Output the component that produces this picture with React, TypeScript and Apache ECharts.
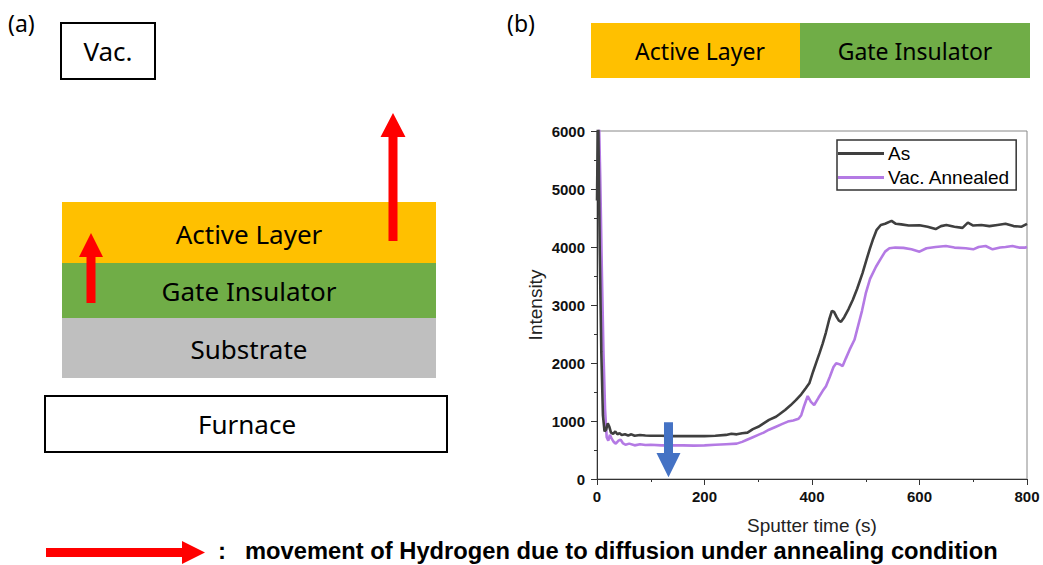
import React, { useEffect, useRef } from "react";
import * as echarts from "echarts";

// ---- Data ----
const asX = [0, 2, 5, 8, 11, 14, 17, 20, 23, 26, 30, 34, 38, 42, 46, 52, 58, 64, 70, 80, 90, 100, 120, 140, 160, 180, 200, 220, 240, 250, 260, 270, 280, 290, 300, 310, 320, 333, 340, 350, 360, 370, 380, 388, 395, 402, 408, 414, 420, 426, 432, 437, 441, 446, 450, 454, 460, 468, 476, 484, 494, 502, 508, 513, 520, 528, 536, 548, 556, 566, 580, 600, 615, 630, 640, 650, 665, 680, 690, 700, 715, 730, 745, 760, 775, 790, 800];
const asY = [4800, 6500, 4000, 2200, 1100, 820, 850, 960, 900, 800, 780, 820, 770, 790, 760, 770, 750, 770, 745, 760, 750, 745, 745, 740, 740, 740, 740, 745, 760, 780, 770, 790, 800, 860, 900, 960, 1020, 1074, 1120, 1190, 1270, 1360, 1460, 1560, 1650, 1850, 2010, 2170, 2340, 2530, 2750, 2900, 2880, 2790, 2730, 2710, 2790, 2930, 3090, 3280, 3550, 3800, 3980, 4120, 4290, 4380, 4400, 4450, 4400, 4390, 4370, 4375, 4350, 4310, 4360, 4380, 4350, 4330, 4420, 4370, 4380, 4360, 4380, 4400, 4360, 4350, 4400];

const vacX = [3, 6, 9, 12, 15, 18, 21, 24, 27, 31, 35, 40, 44, 48, 53, 60, 70, 80, 90, 100, 120, 140, 160, 180, 200, 220, 240, 260, 270, 278, 290, 300, 310, 320, 333, 345, 355, 365, 375, 380, 385, 392, 398, 404, 412, 420, 426, 433, 440, 445, 451, 457, 463, 470, 479, 486, 493, 500, 508, 519, 528, 536, 544, 555, 570, 585, 600, 613, 630, 649, 665, 686, 700, 710, 723, 736, 750, 760, 773, 785, 797, 800];
const vacY = [6500, 5200, 3600, 2200, 1200, 720, 660, 760, 700, 640, 610, 660, 680, 620, 590, 610, 580, 600, 585, 590, 580, 580, 580, 575, 580, 590, 600, 610, 640, 672, 720, 760, 800, 850, 902, 950, 990, 1010, 1040, 1100, 1250, 1431, 1330, 1276, 1400, 1520, 1600, 1760, 1930, 1995, 1980, 1948, 2080, 2230, 2400, 2650, 2900, 3200, 3450, 3660, 3800, 3920, 3978, 3990, 3985, 3960, 3920, 3978, 4000, 4017, 3990, 3978, 3960, 4000, 4017, 3960, 3990, 4000, 4017, 3990, 3990, 4000];

const seriesNames = ["As", "Vac. Annealed"];
const xTicks = { min: 0, max: 800, interval: 200 };
const yTicks = { min: 0, max: 6000, interval: 1000 };
const arrowX = 133; // blue arrow position (s)
const arrowTopY = 980;
const arrowHeadY = 450;
const arrowTipY = 30;

const bottomNote = "movement of Hydrogen due to diffusion under annealing condition";

const SCHEM_FONT = '"Noto Sans", "DejaVu Sans", sans-serif';
const CHART_FONT = '"Liberation Sans", Arial, sans-serif';
const NOTE_FONT = 'bold 24px "Liberation Sans", Arial, sans-serif';

function measure(text: string, font: string): number {
  const c = document.createElement("canvas");
  const ctx = c.getContext("2d");
  if (!ctx) return text.length * 12;
  ctx.font = font;
  return ctx.measureText(text).width;
}

function schemText(text: string, x: number, y: number, size = 26) {
  return {
    type: "text",
    z: 20,
    x,
    y,
    style: {
      text,
      fill: "#000",
      font: `${size}px ${SCHEM_FONT}`,
      align: "center",
      verticalAlign: "middle",
    },
  };
}

function rect(x: number, y: number, w: number, h: number, fill: string, stroke?: string, lw = 0) {
  return {
    type: "rect",
    z: 10,
    shape: { x, y, width: w, height: h },
    style: { fill, stroke: stroke || null, lineWidth: lw },
  };
}

function upArrow(cx: number, tipY: number, headY: number, bottomY: number, headHalf: number, shaftHalf: number, color: string) {
  return {
    type: "polygon",
    z: 30,
    shape: {
      points: [
        [cx, tipY],
        [cx + headHalf, headY],
        [cx + shaftHalf, headY],
        [cx + shaftHalf, bottomY],
        [cx - shaftHalf, bottomY],
        [cx - shaftHalf, headY],
        [cx - headHalf, headY],
      ],
    },
    style: { fill: color },
  };
}

export default function App() {
  const ref = useRef<HTMLDivElement>(null);

  useEffect(() => {
    if (!ref.current) return;
    const chart = echarts.init(ref.current, null, { renderer: "svg" });

    const asData = asX.map((x, i) => [x, asY[i]]);
    const vacData = vacX.map((x, i) => [x, vacY[i]]);

    const noteWidth = measure(bottomNote, NOTE_FONT);
    const noteScale = Math.min(1, 753 / Math.max(1, noteWidth));

    const staticGraphics: any[] = [
      // panel labels
      { type: "text", z: 20, x: 8, y: 23, style: { text: "(a)", fill: "#000", font: `23px ${SCHEM_FONT}`, verticalAlign: "middle" } },
      { type: "text", z: 20, x: 507, y: 23, style: { text: "(b)", fill: "#000", font: `23px ${SCHEM_FONT}`, verticalAlign: "middle" } },
      // Vac. box
      rect(61, 23, 94, 56, "#fff", "#000", 2),
      schemText("Vac.", 108, 51),
      // layer stack
      rect(62, 202, 374, 61, "#FFC000"),
      rect(62, 263, 374, 55, "#70AD47"),
      rect(62, 318, 374, 60, "#BFBFBF"),
      schemText("Active Layer", 249, 234),
      schemText("Gate Insulator", 249, 291),
      schemText("Substrate", 249, 349),
      // furnace
      rect(45, 396, 402, 56, "#fff", "#000", 2),
      schemText("Furnace", 247, 424),
      // red arrows
      upArrow(91, 233, 257, 303, 12, 4.5, "#FF0000"),
      upArrow(393, 113, 137, 241, 12.5, 4.5, "#FF0000"),
      // top bars in (b)
      rect(591, 23, 209, 55, "#FFC000"),
      rect(800, 23, 230, 55, "#70AD47"),
      schemText("Active Layer", 700, 51, 23),
      schemText("Gate Insulator", 915, 51, 23),
      // bottom legend arrow
      {
        type: "polygon",
        z: 30,
        shape: {
          points: [
            [46, 548],
            [182, 548],
            [182, 541],
            [205, 552.5],
            [182, 564],
            [182, 557],
            [46, 557],
          ],
        },
        style: { fill: "#FF0000" },
      },
      {
        type: "text",
        z: 20,
        x: 218,
        y: 550,
        style: { text: ":", fill: "#000", font: NOTE_FONT, verticalAlign: "middle" },
      },
      {
        type: "text",
        z: 20,
        x: 245,
        y: 550,
        scaleX: noteScale,
        style: { text: bottomNote, fill: "#000", font: NOTE_FONT, verticalAlign: "middle" },
      },
    ];

    chart.setOption({
      animation: false,
      backgroundColor: "#fff",
      grid: {
        left: 597,
        top: 131,
        width: 430,
        height: 348,
        show: true,
        borderColor: "#888",
        borderWidth: 1,
        backgroundColor: "transparent",
      },
      legend: {
        show: true,
        data: seriesNames,
        orient: "vertical",
        left: 837,
        top: 140,
        icon: "rect",
        itemWidth: 46,
        itemHeight: 3,
        itemGap: 5,
        padding: [4, 6, 3, 1],
        borderColor: "#333",
        borderWidth: 1.5,
        backgroundColor: "#fff",
        textStyle: { fontSize: 19, fontFamily: CHART_FONT, color: "#000", padding: [0, 0, 0, -1] },
      },
      xAxis: {
        type: "value",
        min: xTicks.min,
        max: xTicks.max,
        interval: xTicks.interval,
        name: "Sputter time (s)",
        nameLocation: "middle",
        nameGap: 37,
        nameTextStyle: { fontSize: 19, fontFamily: CHART_FONT, color: "#222" },
        axisLine: { show: true, lineStyle: { color: "#333", width: 1 } },
        axisTick: { show: true, inside: false, length: 6, lineStyle: { color: "#333" } },
        minorTick: { show: true, splitNumber: 2, length: 3, lineStyle: { color: "#333" } },
        splitLine: { show: false },
        axisLabel: { margin: 10, fontSize: 15, fontWeight: "bold", fontFamily: CHART_FONT, color: "#111", formatter: (v: number) => String(v) },
      },
      yAxis: {
        type: "value",
        min: yTicks.min,
        max: yTicks.max,
        interval: yTicks.interval,
        name: "Intensity",
        nameLocation: "middle",
        nameGap: 52,
        nameTextStyle: { fontSize: 19, fontFamily: CHART_FONT, color: "#222" },
        axisLine: { show: true, lineStyle: { color: "#333", width: 1 } },
        axisTick: { show: true, inside: false, length: 6, lineStyle: { color: "#333" } },
        minorTick: { show: true, splitNumber: 2, length: 3, lineStyle: { color: "#333" } },
        splitLine: { show: false },
        axisLabel: { margin: 12, fontSize: 15, fontWeight: "bold", fontFamily: CHART_FONT, color: "#111", formatter: (v: number) => String(v) },
      },
      series: [
        {
          name: seriesNames[1],
          type: "line",
          data: vacData,
          showSymbol: false,
          color: "#B47AE4",
          lineStyle: { width: 2.6, color: "#B47AE4" },
          clip: true,
          z: 2,
        },
        {
          name: seriesNames[0],
          type: "line",
          data: asData,
          showSymbol: false,
          color: "#3F3F3F",
          lineStyle: { width: 2.6, color: "#3F3F3F" },
          clip: true,
          z: 3,
        },
      ],
      graphic: staticGraphics,
    });

    const top = chart.convertToPixel({ gridIndex: 0 }, [arrowX, arrowTopY]) as number[];
    const head = chart.convertToPixel({ gridIndex: 0 }, [arrowX, arrowHeadY]) as number[];
    const tip = chart.convertToPixel({ gridIndex: 0 }, [arrowX, arrowTipY]) as number[];
    const cx = top[0];
    const blueArrow = {
      type: "polygon",
      z: 40,
      shape: {
        points: [
          [cx - 4.5, top[1]],
          [cx + 4.5, top[1]],
          [cx + 4.5, head[1]],
          [cx + 12, head[1]],
          [cx, tip[1]],
          [cx - 12, head[1]],
          [cx - 4.5, head[1]],
        ],
      },
      style: { fill: "#4472C4" },
    };
    chart.setOption({ graphic: [...staticGraphics, blueArrow] }, { replaceMerge: ["graphic"] });

    return () => {
      chart.dispose();
    };
  }, []);

  return (
    <div
      ref={ref}
      style={{ position: "absolute", left: 0, top: 0, width: 1043, height: 565, background: "#fff" }}
    />
  );
}
